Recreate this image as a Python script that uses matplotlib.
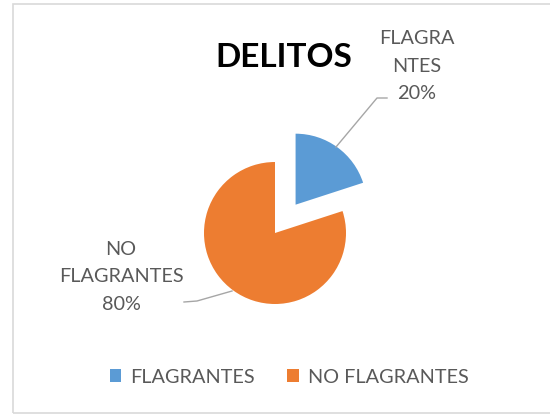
import matplotlib
matplotlib.use("Agg")
import matplotlib.pyplot as plt
from matplotlib.patches import Rectangle

categories = ["FLAGRANTES", "NO FLAGRANTES"]
values = [20, 80]
label_texts = ["FLAGRA\nNTES\n20%", "NO\nFLAGRANTES\n80%"]
colors = ["#5B9BD5", "#ED7D31"]

plt.rcParams["font.family"] = ["Lato", "DejaVu Sans"]
TEXT = "#595959"

W, H = 550, 415
fig = plt.figure(figsize=(W / 100, H / 100), dpi=100)
# axes in pixel coords, y measured up from the bottom
ax = fig.add_axes([0, 0, 1, 1])


def py(y_top):
    return H - y_top


wedges, _ = ax.pie(
    values,
    colors=colors,
    startangle=90,
    counterclock=False,
    radius=71,
    center=(275, py(233)),
    explode=[35, 0],
    wedgeprops=dict(linewidth=0),
)
ax.set_xlim(0, W)
ax.set_ylim(0, H)
ax.set_aspect("auto")
ax.axis("off")

# chart border (right edge falls outside the image)
fig.patches.append(Rectangle((13 / W, 2 / H), 1.0, (H - 6) / H,
                             transform=fig.transFigure, fill=False,
                             edgecolor="#D9D9D9", linewidth=1.2))

ax.text(284, py(67), "DELITOS", ha="center", va="baseline",
        fontsize=24, fontweight="bold", color="black")

# data labels
ax.text(417, py(66), label_texts[0], ha="center", va="center",
        fontsize=14.3, color=TEXT, linespacing=1.74)
ax.text(121, py(277), label_texts[1], ha="center", va="center",
        fontsize=14.3, color=TEXT, linespacing=1.74)

# leader lines
ax.plot([387, 377, 336], [py(98), py(98), py(147)], color="#A6A6A6", lw=1)
ax.plot([184, 197, 232], [py(302), py(301), py(291)], color="#A6A6A6", lw=1)

leg = ax.legend(wedges, categories, loc="center", bbox_to_anchor=(289 / W, py(377) / H),
                ncol=2, frameon=False, fontsize=14.3, handlelength=0.6,
                handleheight=0.6, handletextpad=0.45, columnspacing=1.6,
                labelcolor=TEXT)

fig.savefig("out.png", dpi=100)
